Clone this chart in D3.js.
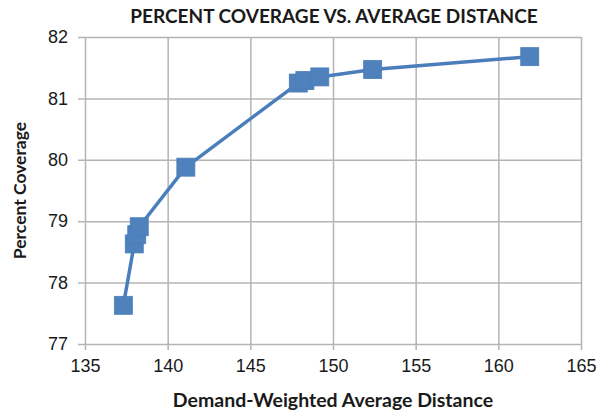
<!DOCTYPE html>
<html>
<head>
<meta charset="utf-8">
<script src="https://cdn.jsdelivr.net/npm/d3@7"></script>
<style>
  html, body { margin: 0; padding: 0; background: #fff; }
  svg { display: block; font-family: Lato, "Open Sans", sans-serif; }
</style>
</head>
<body>
<svg id="chart" width="600" height="413"></svg>
<script>
// Average distance (x) and resulting percent coverage (y) for each solution
const distance = [137.32, 137.98, 138.13, 138.28, 141.1, 147.9, 148.3, 149.2, 152.4, 161.9];
const coverage = [77.63, 78.63, 78.78, 78.91, 79.88, 81.25, 81.29, 81.35, 81.47, 81.68];
const xTicks = [135, 140, 145, 150, 155, 160, 165];
const yTicks = [77, 78, 79, 80, 81, 82];

const svg = d3.select("#chart");
const margin = { left: 85, right: 19, top: 37, bottom: 69 };
const W = 600, H = 413;

const x = d3.scaleLinear().domain([135, 165]).range([margin.left, W - margin.right]);
const y = d3.scaleLinear().domain([77, 82]).range([H - margin.bottom, margin.top]);

const grid = "#b4b4b4";
const ink = "#1a1a1a";

// vertical gridlines with ticks below the plot
const xAxis = d3.axisBottom(x).tickValues(xTicks).tickFormat(d3.format("d"))
  .tickSize(-(y(77) - y(82))).tickSizeOuter(0).tickPadding(10);
const gx = svg.append("g").attr("transform", `translate(0,${y(77)})`).call(xAxis);
gx.select(".domain").remove();
gx.selectAll(".tick line").attr("stroke", grid).attr("stroke-width", 1.5).attr("y2", -(y(77) - y(82))).attr("y1", 6);
gx.selectAll(".tick text").attr("font-size", 18).attr("fill", ink).attr("dy", "1.0em");

// horizontal gridlines with ticks left of the plot
const yAxis = d3.axisLeft(y).tickValues(yTicks).tickFormat(d3.format("d"))
  .tickSize(-(x(165) - x(135))).tickSizeOuter(0).tickPadding(17);
const gy = svg.append("g").attr("transform", `translate(${x(135)},0)`).call(yAxis);
gy.select(".domain").remove();
gy.selectAll(".tick line").attr("stroke", grid).attr("stroke-width", 1.5).attr("x1", -7);
gy.selectAll(".tick text").attr("font-size", 18).attr("fill", ink);

// series line
const pts = distance.map((d, i) => [d, coverage[i]]);
svg.append("path")
  .datum(pts)
  .attr("fill", "none")
  .attr("stroke", "#4a7ebb")
  .attr("stroke-width", 3.5)
  .attr("stroke-linejoin", "round")
  .attr("d", d3.line().x(d => x(d[0])).y(d => y(d[1])));

// square markers
const s = 18;
svg.append("g").selectAll("rect")
  .data(pts)
  .join("rect")
  .attr("x", d => x(d[0]) - s / 2)
  .attr("y", d => y(d[1]) - s / 2)
  .attr("width", s)
  .attr("height", s)
  .attr("fill", "#4f81bd")
  .attr("stroke", "#4a7ebb")
  .attr("stroke-width", 0.8);

// titles
svg.append("text")
  .attr("x", 334).attr("y", 23)
  .attr("text-anchor", "middle")
  .attr("font-size", 19).attr("font-weight", "bold").attr("fill", ink)
  .text("PERCENT COVERAGE VS. AVERAGE DISTANCE");

svg.append("text")
  .attr("x", (x(135) + x(165)) / 2).attr("y", 407)
  .attr("text-anchor", "middle")
  .attr("font-size", 19.5).attr("font-weight", "bold").attr("fill", ink)
  .text("Demand-Weighted Average Distance");

svg.append("text")
  .attr("transform", `translate(26,${(y(77) + y(82)) / 2}) rotate(-90)`)
  .attr("text-anchor", "middle")
  .attr("font-size", 17.5).attr("font-weight", "bold").attr("fill", ink)
  .text("Percent Coverage");
</script>
</body>
</html>
